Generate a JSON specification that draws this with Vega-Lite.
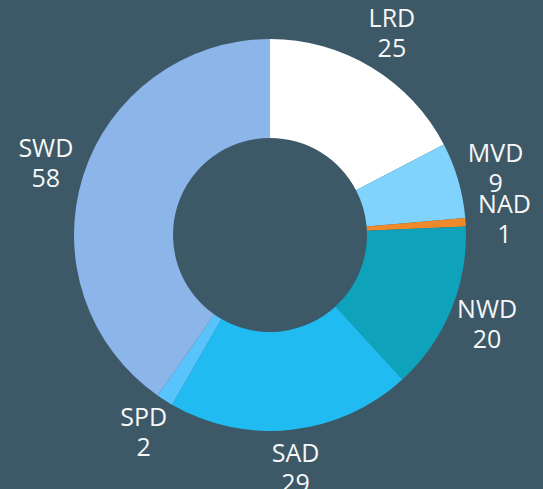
{
  "$schema": "https://vega.github.io/schema/vega-lite/v6.json",
  "width": 540,
  "height": 470,
  "autosize": {"type": "none"},
  "padding": {"left": 0, "top": 0, "right": 3, "bottom": 19},
  "background": "#3d5866",
  "config": {"view": {"stroke": null}},
  "data": {
    "values": [
      {"name": "LRD", "count": 25},
      {"name": "MVD", "count": 9},
      {"name": "NAD", "count": 1},
      {"name": "NWD", "count": 20},
      {"name": "SAD", "count": 29},
      {"name": "SPD", "count": 2},
      {"name": "SWD", "count": 58}
    ]
  },
  "encoding": {
    "theta": {"field": "count", "type": "quantitative", "stack": true},
    "order": {"field": "name", "type": "nominal", "sort": "ascending"}
  },
  "layer": [
    {
      "mark": {"type": "arc", "outerRadius": 196, "innerRadius": 97},
      "encoding": {
        "color": {
          "field": "name",
          "type": "nominal",
          "scale": {
            "domain": ["LRD", "MVD", "NAD", "NWD", "SAD", "SPD", "SWD"],
            "range": ["#ffffff", "#7fd3fd", "#f0892a", "#0ea2bb", "#1fbbf1", "#59c4fb", "#8cb5e9"]
          },
          "legend": null
        }
      }
    },
    {
      "mark": {"type": "text", "radius": 235, "dy": -15, "fontSize": 25, "font": "Open Sans", "fill": "#f5f7f8", "baseline": "middle", "align": "center"},
      "encoding": {"text": {"field": "name", "type": "nominal"}}
    },
    {
      "mark": {"type": "text", "radius": 235, "dy": 15, "fontSize": 25, "font": "Open Sans", "fill": "#f5f7f8", "baseline": "middle", "align": "center"},
      "encoding": {"text": {"field": "count", "type": "quantitative"}}
    }
  ]
}
